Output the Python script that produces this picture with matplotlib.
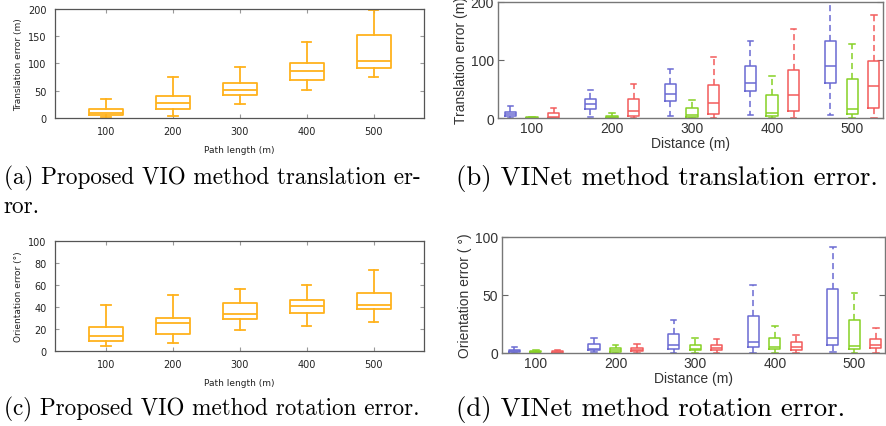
import numpy as np
import matplotlib
matplotlib.use("Agg")
import matplotlib.pyplot as plt

# path lengths / distances
dist = [100, 200, 300, 400, 500]

# proposed VIO, translation error (m): low whisker, q1, median, q3, high whisker
vio_t_lo = [1, 4, 25, 52, 76]
vio_t_q1 = [5, 16.5, 42, 70, 92]
vio_t_med = [10, 27, 52, 86, 104]
vio_t_q3 = [16, 41, 65, 100, 152]
vio_t_hi = [35, 76, 94, 139, 199]

# proposed VIO, orientation error (deg)
vio_r_lo = [4.5, 7.5, 19, 23, 26.5]
vio_r_q1 = [9.5, 15.5, 29.5, 34.5, 38]
vio_r_med = [14, 25.5, 33.5, 41, 42]
vio_r_q3 = [22, 30, 44, 46, 52.5]
vio_r_hi = [42, 51, 56, 60, 73.5]

# VINet translation error (m), three series per distance
vin_t_blue = {"lo": [0, 1, 4, 6, 6], "q1": [3, 15, 30, 47, 61], "med": [7, 23.5, 41, 61, 89],
              "q3": [11, 33, 58.5, 89, 132], "hi": [21, 49, 85, 132, 215]}
vin_t_green = {"lo": [0, 0, 0, 0, 0], "q1": [0, 0.5, 2, 4, 7], "med": [0.5, 2, 5, 9, 15.5],
               "q3": [1, 4, 17, 39, 68], "hi": [1.5, 8, 31.5, 73, 128]}
vin_t_red = {"lo": [0, 0, 0, 0, 0], "q1": [0, 3, 7, 12, 18], "med": [2, 11.5, 26, 40, 56],
             "q3": [8, 32, 57, 83, 98], "hi": [17, 59, 106, 154, 178]}

# VINet orientation error (deg)
vin_r_blue = {"lo": [0, 0.5, 0, 0.3, 1], "q1": [1, 2.6, 3.7, 5.2, 6.6], "med": [2, 3.7, 6.6, 9.2, 13.3],
              "q3": [3, 7.5, 16, 32, 54.8], "hi": [5, 12.7, 28.8, 58.5, 91.4]}
vin_r_green = {"lo": [0, 0, 0, 0, 0], "q1": [0.5, 1.2, 2.6, 3.5, 3.7], "med": [1, 2.6, 3.7, 5.2, 6],
               "q3": [1.5, 4.3, 7.2, 13.3, 28], "hi": [2.5, 7.2, 12.7, 23.3, 51.3]}
vin_r_red = {"lo": [0, 0, 0, 0, 0], "q1": [0.3, 1.7, 2.6, 2.9, 4], "med": [1, 3, 4.3, 4.9, 7.2],
             "q3": [1.7, 4.6, 7.2, 9.5, 12.4], "hi": [3, 7.5, 12, 15.9, 21.3]}

orange = "#FFB21C"
blue = "#6A6AD2"
green = "#86D125"
red = "#F25B5B"


def stats(lo, q1, med, q3, hi):
    return [{"whislo": a, "q1": b, "med": c, "q3": d, "whishi": e, "fliers": []}
            for a, b, c, d, e in zip(lo, q1, med, q3, hi)]


def vio_panel(ax, st, ylim, yticks, ylabel):
    ax.bxp(st, positions=dist, widths=50, capwidths=14,
           boxprops=dict(color=orange, lw=1.3), whiskerprops=dict(color=orange, lw=1.3),
           capprops=dict(color=orange, lw=1.3), medianprops=dict(color=orange, lw=1.3))
    ax.set_xlim(24, 575)
    ax.set_ylim(*ylim)
    ax.set_yticks(yticks)
    ax.set_xticks(dist)
    ax.set_xticklabels([str(d) for d in dist])
    ax.tick_params(direction="in", length=3, color="#999999", labelsize=7, labelcolor="#222222",
                   top=True, right=True, pad=6)
    for s in ax.spines.values():
        s.set_color("#555555")
        s.set_linewidth(0.9)
    ax.set_ylabel(ylabel, fontsize=6.5, color="#222222")
    ax.set_xlabel("Path length (m)", fontsize=6.5, color="#222222", labelpad=6)


def vinet_panel(ax, series, ylim, yticks, ylabel):
    offs = [-27, 0, 27]
    for (d, col), off in zip(zip(series, [blue, green, red]), offs):
        st = stats(d["lo"], d["q1"], d["med"], d["q3"], d["hi"])
        ax.bxp(st, positions=[p + off for p in dist], widths=14, capwidths=7,
               boxprops=dict(color=col, lw=1.1),
               whiskerprops=dict(color=col, lw=1.1, linestyle=(0, (4, 2.5))),
               capprops=dict(color=col, lw=1.1), medianprops=dict(color=col, lw=1.1))
    ax.set_xlim(57.5, 538.5)
    ax.set_ylim(*ylim)
    ax.set_yticks(yticks)
    ax.set_xticks(dist)
    ax.set_xticklabels([str(d) for d in dist])
    ax.tick_params(axis="y", direction="in", length=4, color="#666666", right=True,
                   labelsize=10, labelcolor="#333333", pad=3)
    ax.tick_params(axis="x", length=0, labelsize=10, labelcolor="#333333", pad=2)
    for f in ax.get_xticklabels() + ax.get_yticklabels():
        f.set_family("Liberation Sans")
    for s in ax.spines.values():
        s.set_color("#777777")
        s.set_linewidth(1.0)
    ax.set_ylabel(ylabel, fontsize=10, family="Liberation Sans", color="#333333", labelpad=2)
    ax.set_xlabel("Distance (m)", fontsize=10, family="Liberation Sans", color="#333333", labelpad=1)


fig = plt.figure(figsize=(8.87, 4.27), dpi=100)

ax_a = fig.add_axes([0.062, 0.7213, 0.416, 0.2553])
vio_panel(ax_a, stats(vio_t_lo, vio_t_q1, vio_t_med, vio_t_q3, vio_t_hi),
          (0, 200), [0, 50, 100, 150, 200], "Translation error (m)")

ax_c = fig.add_axes([0.062, 0.1756, 0.416, 0.2576])
vio_panel(ax_c, stats(vio_r_lo, vio_r_q1, vio_r_med, vio_r_q3, vio_r_hi),
          (0, 100), [0, 20, 40, 60, 80, 100], "Orientation error (°)")

ax_b = fig.add_axes([0.5614, 0.7213, 0.434, 0.2717])
vinet_panel(ax_b, [vin_t_blue, vin_t_green, vin_t_red], (0, 200), [0, 100, 200],
            "Translation error (m)")

ax_d = fig.add_axes([0.566, 0.171, 0.4318, 0.2717])
vinet_panel(ax_d, [vin_r_blue, vin_r_green, vin_r_red], (0, 100), [0, 50, 100],
            "Orientation error ( °)")

capl = dict(family="cmr10", fontsize=16.7, va="center", ha="left")
capr = dict(family="cmr10", fontsize=19.3, va="center", ha="left")
fig.text(0.004, 0.583, "(a) Proposed VIO method translation er-", **capl)
fig.text(0.004, 0.515, "ror.", **capl)
fig.text(0.514, 0.583, "(b) VINet method translation error.", **capr)
fig.text(0.004, 0.04, "(c) Proposed VIO method rotation error.", **capl)
fig.text(0.514, 0.04, "(d) VINet method rotation error.", **capr)

fig.savefig("out.png", dpi=100)
